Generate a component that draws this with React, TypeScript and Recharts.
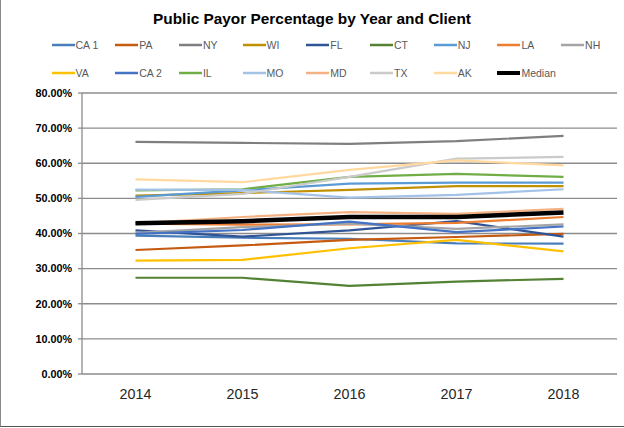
import { CartesianGrid, Line, LineChart, XAxis, YAxis } from "recharts";

// years on the category axis
const years = ["2014", "2015", "2016", "2017", "2018"];
const yTicks = [0, 10, 20, 30, 40, 50, 60, 70, 80];

// public payor share (%) per client
const ca1 = [39.4, 38.8, 38.5, 37.2, 37.1];
const pa = [35.3, 36.6, 38.2, 39.0, 39.9];
const ny = [66.1, 65.8, 65.5, 66.3, 67.8];
const wi = [50.8, 51.5, 52.4, 53.5, 53.5];
const fl = [40.9, 39.1, 40.9, 43.5, 39.1];
const ct = [27.4, 27.4, 25.1, 26.3, 27.1];
const nj = [50.4, 52.3, 54.2, 54.5, 54.5];
const la = [42.8, 42.5, 42.6, 43.0, 44.7];
const nh = [40.2, 41.8, 42.8, 41.3, 42.6];
const va = [32.3, 32.5, 35.8, 38.2, 34.9];
const ca2 = [39.9, 41.0, 43.4, 40.4, 42.0];
const il = [52.3, 52.6, 56.1, 57.0, 56.1];
const mo = [52.5, 52.4, 50.2, 51.0, 52.6];
const md = [42.9, 44.7, 46.1, 45.6, 47.0];
const tx = [49.6, 51.3, 56.1, 61.3, 61.8];
const ak = [55.4, 54.6, 58.1, 60.8, 59.4];
const median = [42.9, 43.5, 44.7, 44.7, 46.0];

const series = [
  { name: "CA 1", values: ca1, color: "#4a7ebb" },
  { name: "PA", values: pa, color: "#c55a11" },
  { name: "NY", values: ny, color: "#7f7f7f" },
  { name: "WI", values: wi, color: "#bf9000" },
  { name: "FL", values: fl, color: "#2f5597" },
  { name: "CT", values: ct, color: "#548235" },
  { name: "NJ", values: nj, color: "#5b9bd5" },
  { name: "LA", values: la, color: "#ed7d31" },
  { name: "NH", values: nh, color: "#a5a5a5" },
  { name: "VA", values: va, color: "#ffc000" },
  { name: "CA 2", values: ca2, color: "#4472c4" },
  { name: "IL", values: il, color: "#70ad47" },
  { name: "MO", values: mo, color: "#a4c2e8" },
  { name: "MD", values: md, color: "#f4b183" },
  { name: "TX", values: tx, color: "#cacaca" },
  { name: "AK", values: ak, color: "#ffd9a0" },
  { name: "Median", values: median, color: "#000000" },
];

const rows = years.map((year, i) => {
  const row: any = { x: i, year };
  series.forEach((s) => {
    row[s.name] = s.values[i];
  });
  return row;
});

const font = "'Liberation Sans', Arial, sans-serif";

function Legend() {
  return (
    <>
      {series.map((s, i) => {
        const col = i % 9;
        const row = Math.floor(i / 9);
        const thick = s.name === "Median";
        return (
          <div
            key={s.name}
            style={{
              position: "absolute",
              left: 51.5 + col * 63.7,
              top: 38 + row * 27.5,
              height: 14,
              display: "flex",
              alignItems: "center",
              fontFamily: font,
              fontSize: 10.5,
              color: "#595959",
              whiteSpace: "nowrap",
            }}
          >
            <svg width={23} height={8} style={{ marginRight: 1 }}>
              <line x1={0} y1={4} x2={23} y2={4} stroke={s.color} strokeWidth={thick ? 4 : 2.5} />
            </svg>
            {s.name}
          </div>
        );
      })}
    </>
  );
}

export default function App() {
  return (
    <div style={{ position: "absolute", left: 0, top: 0, width: 624, height: 428, background: "#fff" }}>
      <div
        style={{
          position: "absolute",
          left: 0,
          right: 0,
          top: 10,
          textAlign: "center",
          fontFamily: font,
          fontWeight: "bold",
          fontSize: 15.4,
          color: "#000",
        }}
      >
        Public Payor Percentage by Year and Client
      </div>
      <Legend />
      <div style={{ position: "absolute", left: 0, top: 0 }}>
        <LineChart width={624} height={428} data={rows} margin={{ top: 93, right: 7, bottom: 0, left: 0 }}>
          <CartesianGrid vertical={false} stroke="#8c8c8c" strokeWidth={1.3} />
          <XAxis
            xAxisId="marks"
            type="number"
            dataKey="x"
            domain={[-0.5, 4.5]}
            ticks={[-0.5, 0.5, 1.5, 2.5, 3.5, 4.5]}
            height={0}
            tick={false}
            tickSize={5}
            stroke="#8c8c8c"
            tickLine={{ stroke: "#8c8c8c", strokeWidth: 1.3 }}
            axisLine={{ stroke: "#8c8c8c", strokeWidth: 1.3 }}
          />
          <XAxis
            type="number"
            dataKey="x"
            domain={[-0.5, 4.5]}
            ticks={[0, 1, 2, 3, 4]}
            tickFormatter={(v) => years[v]}
            height={54}
            axisLine={false}
            tickLine={false}
            tickSize={6}
            tickMargin={9}
            tick={{ fontSize: 14.3, fill: "#262626", fontFamily: font }}
          />
          <YAxis
            domain={[0, 80]}
            ticks={yTicks}
            tickFormatter={(v) => `${v.toFixed(2)}%`}
            width={82}
            tickSize={4}
            tickMargin={6}
            axisLine={{ stroke: "#8c8c8c", strokeWidth: 1.3 }}
            tickLine={{ stroke: "#8c8c8c", strokeWidth: 1.3 }}
            tick={{ fontSize: 10.8, fontWeight: "bold", fill: "#000", fontFamily: font }}
          />
          {series.map((s) => (
            <Line
              key={s.name}
              type="linear"
              dataKey={s.name}
              stroke={s.color}
              strokeWidth={s.name === "Median" ? 4.5 : 2.2}
              dot={false}
              isAnimationActive={false}
              strokeLinejoin="round"
            />
          ))}
        </LineChart>
      </div>
      <div
        style={{
          position: "absolute",
          left: 0,
          top: 0,
          width: 624,
          height: 427,
          boxSizing: "border-box",
          borderLeft: "1px solid #8a8a8a",
          borderBottom: "1px solid #555",
          pointerEvents: "none",
        }}
      />
    </div>
  );
}
